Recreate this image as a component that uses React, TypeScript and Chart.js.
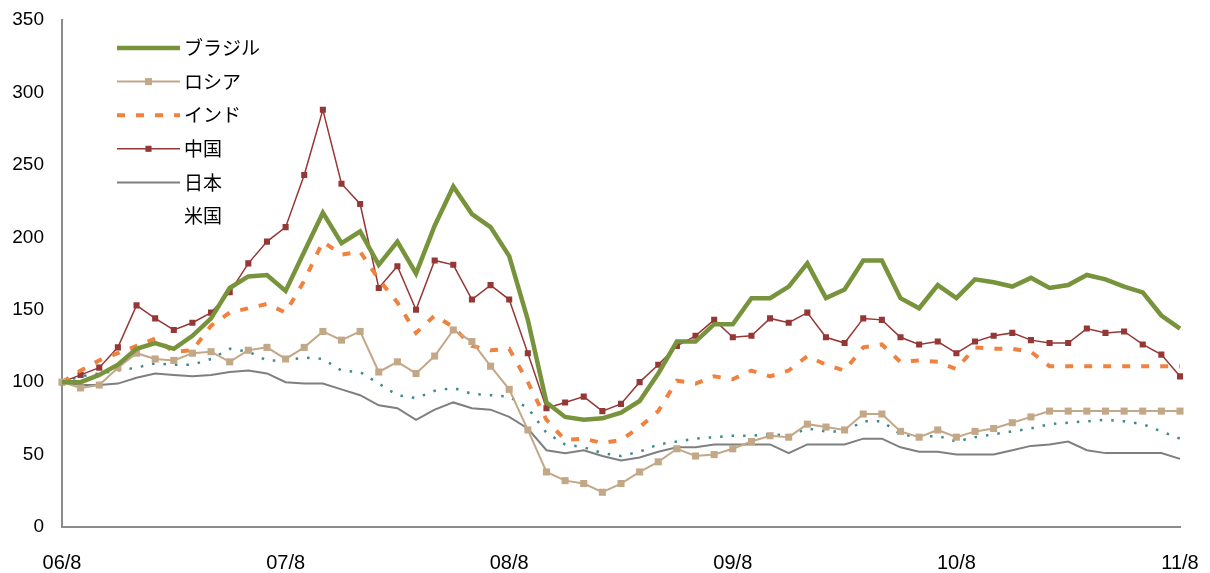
import React, { useEffect, useRef } from "react";
import { Chart, registerables } from "chart.js";

Chart.register(...registerables);

const months = [
  "06/8", "06/9", "06/10", "06/11", "06/12", "07/1", "07/2", "07/3", "07/4", "07/5", "07/6", "07/7",
  "07/8", "07/9", "07/10", "07/11", "07/12", "08/1", "08/2", "08/3", "08/4", "08/5", "08/6", "08/7",
  "08/8", "08/9", "08/10", "08/11", "08/12", "09/1", "09/2", "09/3", "09/4", "09/5", "09/6", "09/7",
  "09/8", "09/9", "09/10", "09/11", "09/12", "10/1", "10/2", "10/3", "10/4", "10/5", "10/6", "10/7",
  "10/8", "10/9", "10/10", "10/11", "10/12", "11/1", "11/2", "11/3", "11/4", "11/5", "11/6", "11/7",
  "11/8",
];

const seriesNames = ["ブラジル", "ロシア", "インド", "中国", "日本", "米国"];

const brazil = [
  100, 100, 105, 112, 123, 127, 123, 132, 144, 165,
  173, 174, 163, 190, 217, 196, 204, 181, 197, 175,
  208, 235, 216, 207, 187, 143, 86, 76, 74, 75,
  79, 87, 106, 128, 128, 140, 140, 158, 158, 166,
  182, 158, 164, 184, 184, 158, 151, 167, 158, 171,
  169, 166, 172, 165, 167, 174, 171, 166, 162, 146,
  137,
];

const russia = [
  100, 96, 98, 110, 120, 116, 115, 120, 121, 114,
  122, 124, 116, 124, 135, 129, 135, 107, 114, 106,
  118, 136, 128, 111, 95, 67, 38, 32, 30, 24,
  30, 38, 45, 54, 49, 50, 54, 59, 63, 62,
  71, 69, 67, 78, 78, 66, 62, 67, 62, 66,
  68, 72, 76, 80, 80, 80, 80, 80, 80, 80,
  80,
];

const india = [
  100, 108, 115, 120, 125, 130, 121, 122, 139, 148,
  151, 154, 148, 170, 197, 188, 190, 171, 155, 134,
  146, 138, 125, 122, 123, 100, 74, 60, 61, 58,
  60, 69, 80, 101, 99, 104, 102, 108, 104, 108,
  118, 112, 108, 124, 126, 114, 115, 114, 109, 124,
  123, 123, 121, 111, 111, 111, 111, 111, 111, 111,
  111,
];

const china = [
  100, 105, 110, 124, 153, 144, 136, 141, 148, 162,
  182, 197, 207, 243, 288, 237, 223, 165, 180, 150,
  184, 181, 157, 167, 157, 120, 82, 86, 90, 80,
  85, 100, 112, 125, 132, 143, 131, 132, 144, 141,
  148, 131, 127, 144, 143, 131, 126, 128, 120, 128,
  132, 134, 129, 127, 127, 137, 134, 135, 126, 119,
  104,
];

const japan = [
  100, 98, 98, 99, 103, 106, 105, 104, 105, 107,
  108, 106, 100, 99, 99, 95, 91, 84, 82, 74,
  81, 86, 82, 81, 76, 68, 53, 51, 53, 49,
  46, 48, 52, 55, 55, 57, 57, 57, 57, 51,
  57, 57, 57, 61, 61, 55, 52, 52, 50, 50,
  50, 53, 56, 57, 59, 53, 51, 51, 51, 51,
  47,
];

const usa = [
  100, 104, 106, 108, 110, 113, 112, 112, 116, 123,
  121, 115, 115, 117, 116, 108, 107, 99, 91, 89,
  94, 96, 92, 91, 90, 82, 65, 57, 55, 51,
  49, 52, 57, 59, 61, 62, 63, 63, 64, 63,
  68, 66, 66, 73, 73, 64, 62, 63, 59, 62,
  64, 66, 68, 71, 72, 73, 74, 73, 71, 66,
  61,
];

const legendPlugin = {
  id: "sampleLegend",
  afterDraw(chart: any) {
    const ctx = chart.ctx;
    const area = chart.chartArea;
    const x0 = area.left + 55;
    const x1 = area.left + 118;
    const tx = area.left + 122;
    ctx.save();
    chart.data.datasets.forEach((ds: any, i: number) => {
      const y = area.top + 28 + i * 33.6;
      if (ds.legendLine !== false) {
        ctx.beginPath();
        ctx.setLineDash(ds.borderDash || []);
        ctx.lineWidth = ds.borderWidth;
        ctx.strokeStyle = ds.borderColor;
        ctx.lineCap = "butt";
        ctx.moveTo(x0, y);
        ctx.lineTo(x1, y);
        ctx.stroke();
        ctx.setLineDash([]);
        if (ds.pointRadius > 0) {
          const s = ds.pointRadius * Math.SQRT1_2;
          const cx = (x0 + x1) / 2;
          ctx.fillStyle = ds.pointBackgroundColor;
          ctx.fillRect(cx - s, y - s, 2 * s, 2 * s);
        }
      }
      ctx.fillStyle = "#000";
      ctx.font = '19px "Noto Sans CJK JP"';
      ctx.textBaseline = "middle";
      ctx.textAlign = "left";
      ctx.fillText(ds.label, tx, y);
    });
    ctx.restore();
  },
};

export default function App() {
  const ref = useRef<HTMLCanvasElement>(null);

  useEffect(() => {
    if (!ref.current) return;
    const chart = new Chart(ref.current, {
      type: "line",
      data: {
        labels: months,
        datasets: [
          {
            label: seriesNames[0],
            data: brazil,
            borderColor: "#77933C",
            borderWidth: 4.5,
            pointRadius: 0,
            tension: 0,
          },
          {
            label: seriesNames[1],
            data: russia,
            borderColor: "#C3A888",
            pointBackgroundColor: "#C3A888",
            pointBorderColor: "#C3A888",
            borderWidth: 2,
            pointStyle: "rect",
            pointRadius: 5,
            pointBorderWidth: 0,
            tension: 0,
          },
          {
            label: seriesNames[2],
            data: india,
            borderColor: "#F0813E",
            borderWidth: 4,
            borderDash: [8, 11],
            pointRadius: 0,
            tension: 0,
          },
          {
            label: seriesNames[3],
            data: china,
            borderColor: "#953735",
            pointBackgroundColor: "#953735",
            pointBorderColor: "#953735",
            borderWidth: 1.5,
            pointStyle: "rect",
            pointRadius: 4.3,
            pointBorderWidth: 0,
            tension: 0,
          },
          {
            label: seriesNames[4],
            data: japan,
            borderColor: "#7F7F7F",
            borderWidth: 2,
            pointRadius: 0,
            tension: 0,
          },
          {
            label: seriesNames[5],
            data: usa,
            borderColor: "#3D8A8E",
            borderWidth: 2.5,
            borderDash: [2.5, 9],
            pointRadius: 0,
            tension: 0,
            legendLine: false,
          } as any,
        ],
      },
      options: {
        animation: false,
        responsive: true,
        maintainAspectRatio: false,
        layout: { padding: { left: 0, top: 20, right: 30, bottom: 0 } },
        plugins: {
          legend: { display: false },
          tooltip: { enabled: false },
        },
        scales: {
          x: {
            type: "category",
            offset: false,
            grid: { display: false, drawTicks: false },
            border: { display: true, color: "#8C8C8C", width: 2 },
            ticks: {
              autoSkip: false,
              maxRotation: 0,
              minRotation: 0,
              padding: 24,
              color: "#000",
              font: { family: '"Liberation Sans", Arial, sans-serif', size: 20 },
              callback: (_v: any, i: number) => (months[i].endsWith("/8") ? months[i] : ""),
            },
            afterFit: (scale: any) => {
              scale.height = 46;
              scale.paddingLeft = 0;
              scale.paddingRight = 0;
            },
          },
          y: {
            min: 0,
            max: 350,
            grid: { display: false, drawTicks: false },
            border: { display: true, color: "#8C8C8C", width: 2 },
            ticks: {
              stepSize: 50,
              padding: 18,
              color: "#000",
              font: { family: '"Liberation Sans", Arial, sans-serif', size: 19 },
            },
            afterFit: (scale: any) => {
              scale.width = 62;
              scale.paddingTop = 0;
              scale.paddingBottom = 0;
            },
          },
        },
      },
      plugins: [legendPlugin],
    });
    return () => chart.destroy();
  }, []);

  return (
    <div style={{ position: "fixed", left: 0, top: 0, width: 1210, height: 573, background: "#fff" }}>
      <canvas ref={ref} />
    </div>
  );
}
